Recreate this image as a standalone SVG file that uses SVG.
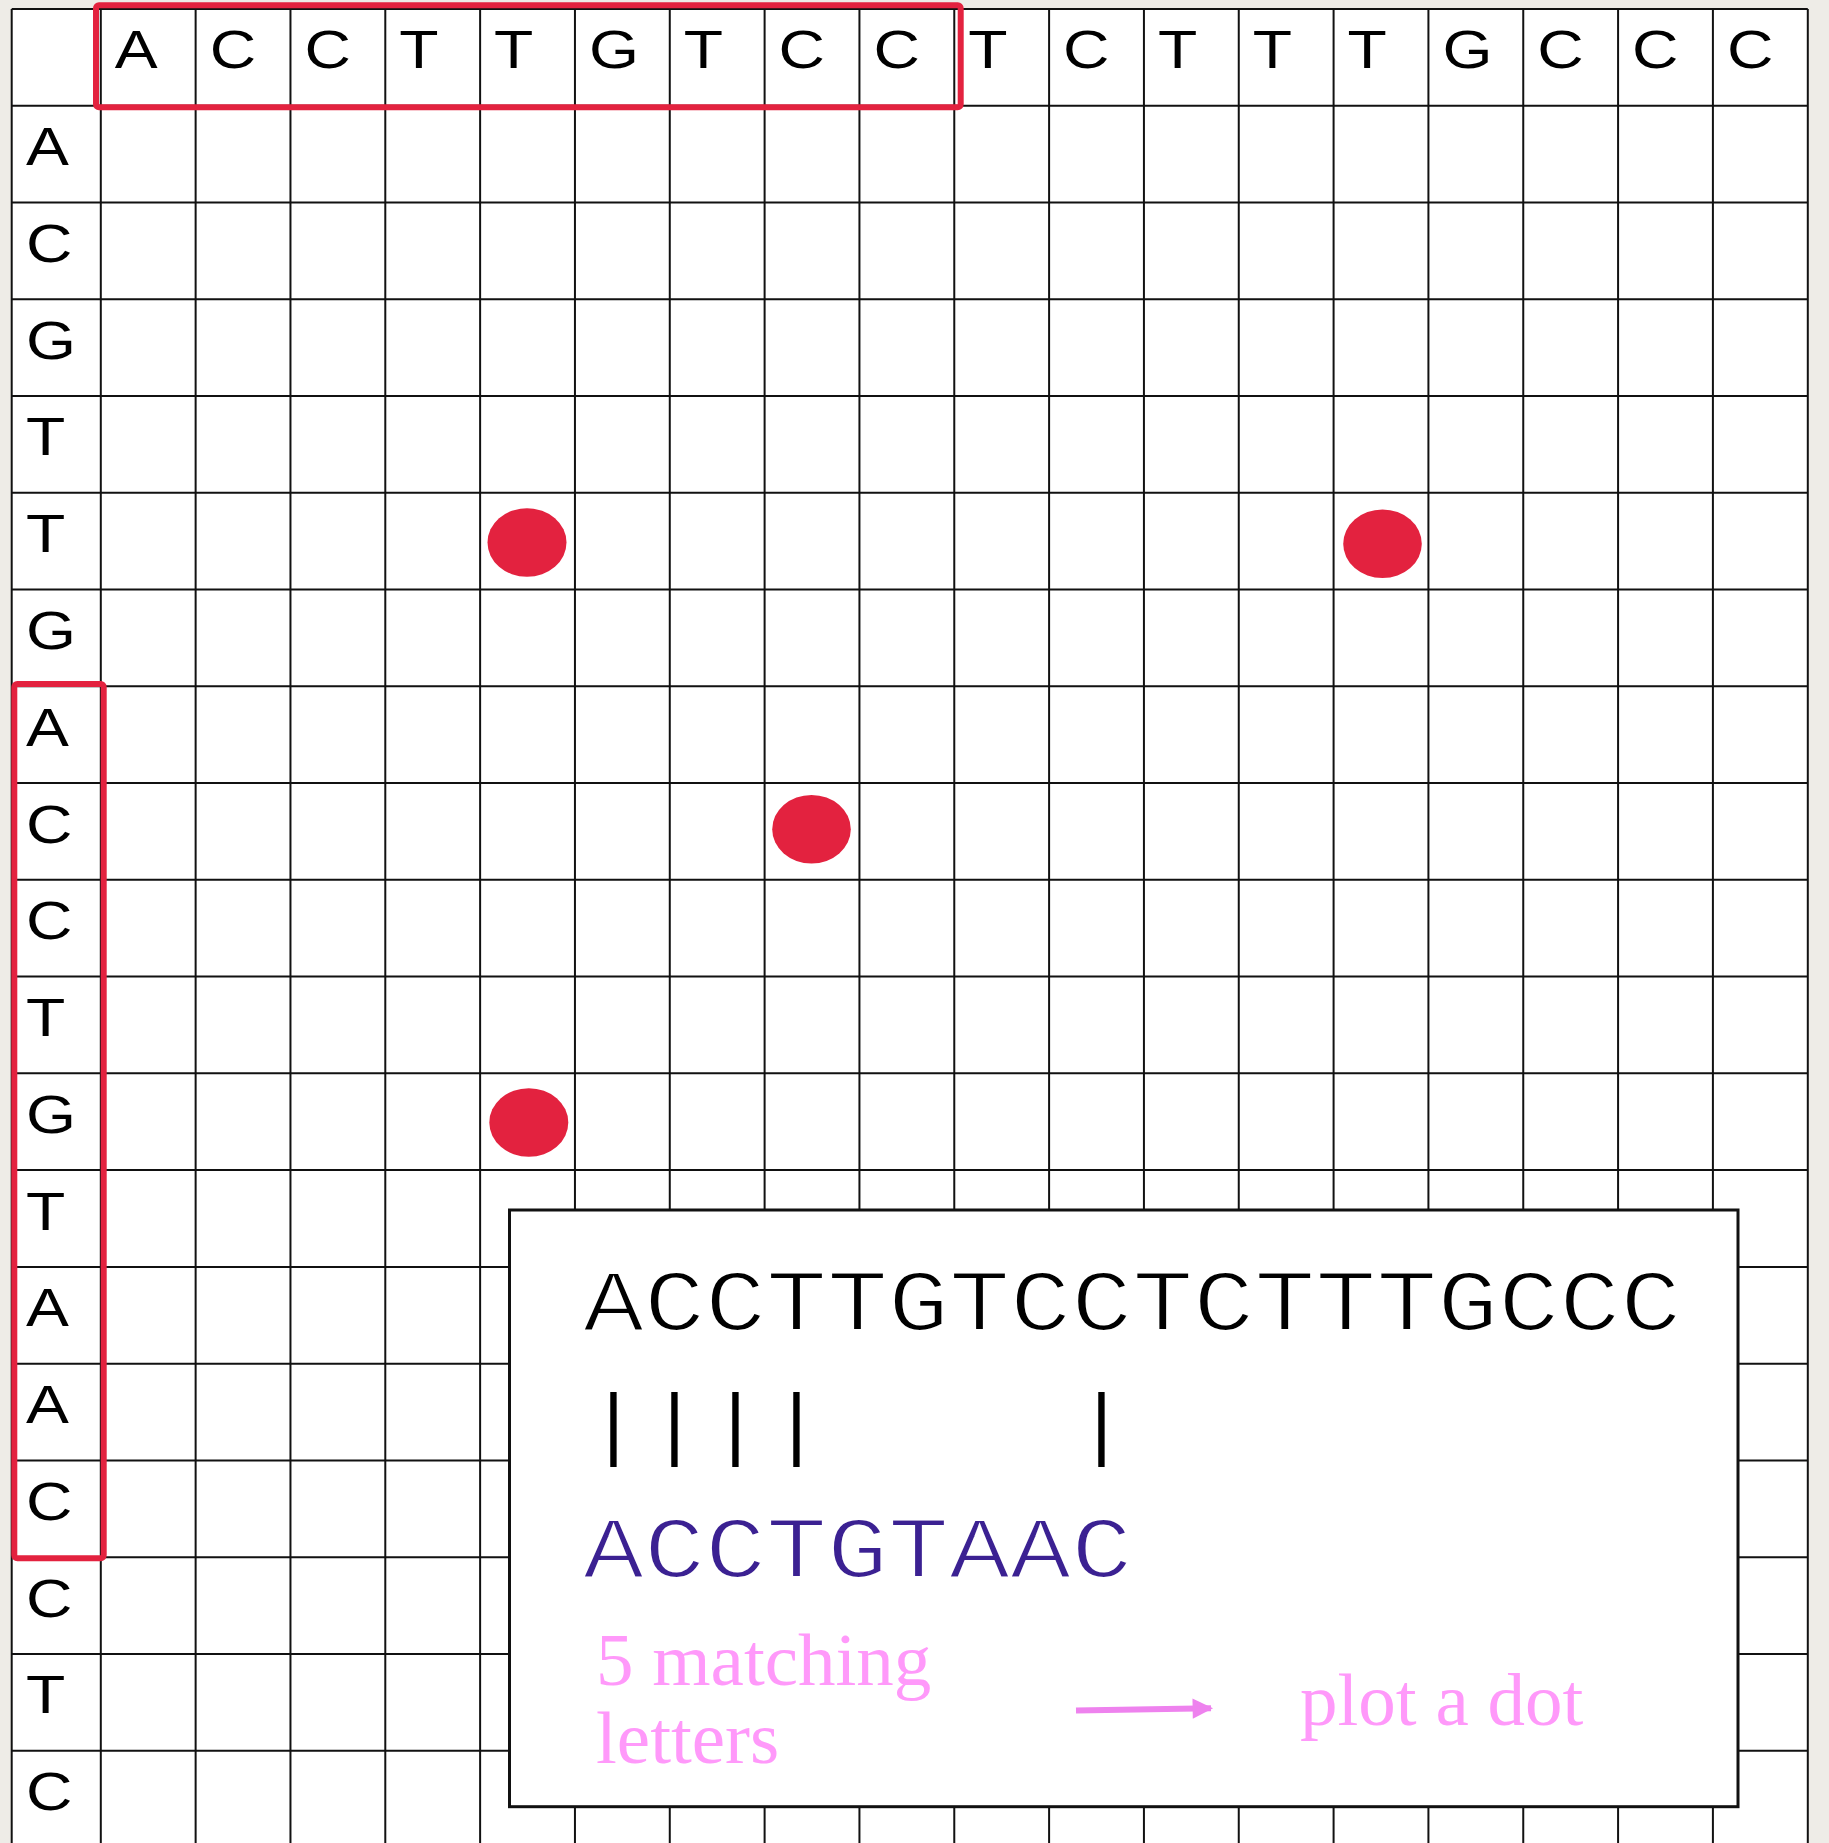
<svg xmlns="http://www.w3.org/2000/svg" width="1829" height="1843" viewBox="0 0 1829 1843">
  <defs>
    <style>
      .grid line { stroke: #111; stroke-width: 2; }
      .lbl { font-family: "Liberation Sans", Arial, sans-serif; font-size: 54.5px; fill: #000; }
      .hl { fill: none; stroke: #e3223f; stroke-width: 6; }
      .dot { fill: #e3223f; }
      .mono { font-family: "Liberation Mono", "Courier New", monospace; font-size: 101.7px; stroke: #fff; stroke-width: 2.6px; }
      .bars { font-family: "Liberation Mono", "Courier New", monospace; font-size: 79px; fill: #000; }
      .pink { font-family: "Liberation Serif", "Times New Roman", serif; font-size: 75px; fill: #ff99fa; }
    </style>
    <marker id="ah" viewBox="0 0 10 10" refX="9" refY="5" markerWidth="3.6" markerHeight="3.4" markerUnits="strokeWidth" orient="auto">
      <path d="M0,0 L10,5 L0,10 Z" fill="#ee82ee"/>
    </marker>
  </defs>

  <rect x="0" y="0" width="1829" height="1843" fill="#eeece7"/>

  <g id="grid" class="grid">
    <rect x="11.7" y="9" width="1796.1" height="1834" fill="#fff"/>
    <line x1="11.7" y1="9" x2="11.7" y2="1843"/>
    <line x1="100.8" y1="9" x2="100.8" y2="1843"/>
    <line x1="195.63" y1="9" x2="195.63" y2="1843"/>
    <line x1="290.46" y1="9" x2="290.46" y2="1843"/>
    <line x1="385.29" y1="9" x2="385.29" y2="1843"/>
    <line x1="480.12" y1="9" x2="480.12" y2="1843"/>
    <line x1="574.95" y1="9" x2="574.95" y2="1843"/>
    <line x1="669.78" y1="9" x2="669.78" y2="1843"/>
    <line x1="764.61" y1="9" x2="764.61" y2="1843"/>
    <line x1="859.44" y1="9" x2="859.44" y2="1843"/>
    <line x1="954.27" y1="9" x2="954.27" y2="1843"/>
    <line x1="1049.1" y1="9" x2="1049.1" y2="1843"/>
    <line x1="1143.93" y1="9" x2="1143.93" y2="1843"/>
    <line x1="1238.76" y1="9" x2="1238.76" y2="1843"/>
    <line x1="1333.59" y1="9" x2="1333.59" y2="1843"/>
    <line x1="1428.42" y1="9" x2="1428.42" y2="1843"/>
    <line x1="1523.25" y1="9" x2="1523.25" y2="1843"/>
    <line x1="1618.08" y1="9" x2="1618.08" y2="1843"/>
    <line x1="1712.91" y1="9" x2="1712.91" y2="1843"/>
    <line x1="1807.8" y1="9" x2="1807.8" y2="1843"/>
    <line x1="11.7" y1="9" x2="1807.8" y2="9"/>
    <line x1="11.7" y1="105.76" x2="1807.8" y2="105.76"/>
    <line x1="11.7" y1="202.52" x2="1807.8" y2="202.52"/>
    <line x1="11.7" y1="299.28" x2="1807.8" y2="299.28"/>
    <line x1="11.7" y1="396.04" x2="1807.8" y2="396.04"/>
    <line x1="11.7" y1="492.8" x2="1807.8" y2="492.8"/>
    <line x1="11.7" y1="589.56" x2="1807.8" y2="589.56"/>
    <line x1="11.7" y1="686.32" x2="1807.8" y2="686.32"/>
    <line x1="11.7" y1="783.08" x2="1807.8" y2="783.08"/>
    <line x1="11.7" y1="879.84" x2="1807.8" y2="879.84"/>
    <line x1="11.7" y1="976.6" x2="1807.8" y2="976.6"/>
    <line x1="11.7" y1="1073.36" x2="1807.8" y2="1073.36"/>
    <line x1="11.7" y1="1170.12" x2="1807.8" y2="1170.12"/>
    <line x1="11.7" y1="1266.88" x2="1807.8" y2="1266.88"/>
    <line x1="11.7" y1="1363.64" x2="1807.8" y2="1363.64"/>
    <line x1="11.7" y1="1460.4" x2="1807.8" y2="1460.4"/>
    <line x1="11.7" y1="1557.16" x2="1807.8" y2="1557.16"/>
    <line x1="11.7" y1="1653.92" x2="1807.8" y2="1653.92"/>
    <line x1="11.7" y1="1750.68" x2="1807.8" y2="1750.68"/>
  </g>

  <g id="header-sequence" transform="scale(1.18 1)">
    <text class="lbl" x="97.29" y="68.5">A</text>
    <text class="lbl" x="177.65" y="68.5">C</text>
    <text class="lbl" x="258.02" y="68.5">C</text>
    <text class="lbl" x="338.38" y="68.5">T</text>
    <text class="lbl" x="418.75" y="68.5">T</text>
    <text class="lbl" x="499.11" y="68.5">G</text>
    <text class="lbl" x="579.47" y="68.5">T</text>
    <text class="lbl" x="659.84" y="68.5">C</text>
    <text class="lbl" x="740.2" y="68.5">C</text>
    <text class="lbl" x="820.57" y="68.5">T</text>
    <text class="lbl" x="900.93" y="68.5">C</text>
    <text class="lbl" x="981.3" y="68.5">T</text>
    <text class="lbl" x="1061.66" y="68.5">T</text>
    <text class="lbl" x="1142.03" y="68.5">T</text>
    <text class="lbl" x="1222.39" y="68.5">G</text>
    <text class="lbl" x="1302.75" y="68.5">C</text>
    <text class="lbl" x="1383.12" y="68.5">C</text>
    <text class="lbl" x="1463.48" y="68.5">C</text>
  </g>

  <g id="side-sequence" transform="scale(1.18 1)">
    <text class="lbl" x="22.03" y="165.3">A</text>
    <text class="lbl" x="22.03" y="262.0">C</text>
    <text class="lbl" x="22.03" y="358.8">G</text>
    <text class="lbl" x="22.03" y="455.5">T</text>
    <text class="lbl" x="22.03" y="552.3">T</text>
    <text class="lbl" x="22.03" y="649.1">G</text>
    <text class="lbl" x="22.03" y="745.8">A</text>
    <text class="lbl" x="22.03" y="842.6">C</text>
    <text class="lbl" x="22.03" y="939.3">C</text>
    <text class="lbl" x="22.03" y="1036.1">T</text>
    <text class="lbl" x="22.03" y="1132.9">G</text>
    <text class="lbl" x="22.03" y="1229.6">T</text>
    <text class="lbl" x="22.03" y="1326.4">A</text>
    <text class="lbl" x="22.03" y="1423.1">A</text>
    <text class="lbl" x="22.03" y="1519.9">C</text>
    <text class="lbl" x="22.03" y="1616.7">C</text>
    <text class="lbl" x="22.03" y="1713.4">T</text>
    <text class="lbl" x="22.03" y="1810.2">C</text>
  </g>

  <g id="highlight-top">
    <rect class="hl" x="96" y="5.3" width="864.7" height="102" rx="3"/>
  </g>
  <g id="highlight-side">
    <rect class="hl" x="14.3" y="684" width="89.4" height="874.3" rx="3"/>
  </g>

  <g id="dots">
    <ellipse class="dot" cx="527" cy="542.5" rx="39.5" ry="34.3"/>
    <ellipse class="dot" cx="1382.5" cy="543.8" rx="39.3" ry="34.3"/>
    <ellipse class="dot" cx="811.5" cy="829.2" rx="39.3" ry="34.3"/>
    <ellipse class="dot" cx="528.8" cy="1122.5" rx="39.5" ry="34.3"/>
  </g>

  <g id="alignment-box">
    <rect x="509.5" y="1210" width="1228.5" height="596.7" fill="#fff" stroke="#111" stroke-width="3"/>
    <text class="mono" x="583" y="1330" fill="#000" transform="matrix(1 0 0 0.86 0 186.2)">ACCTTGTCCTCTTTGCCC</text>
    <text class="bars" x="613.5 674.5 735.5 796.5 1101.5" y="1450" text-anchor="middle">|||||</text>
    <text class="mono" x="583" y="1576.7" fill="#3b2192" transform="matrix(1 0 0 0.86 0 220.74)">ACCTGTAAC</text>
  </g>

  <g id="label-matching">
    <text class="pink" x="596" y="1685">5 matching</text>
    <text class="pink" x="596" y="1763">letters</text>
  </g>

  <g id="label-plot">
    <text class="pink" x="1300" y="1725">plot a dot</text>
  </g>

  <g id="connectors">
    <line x1="1076" y1="1710.5" x2="1211" y2="1708.3" stroke="#ee82ee" stroke-width="6" marker-end="url(#ah)"/>
  </g>
</svg>
